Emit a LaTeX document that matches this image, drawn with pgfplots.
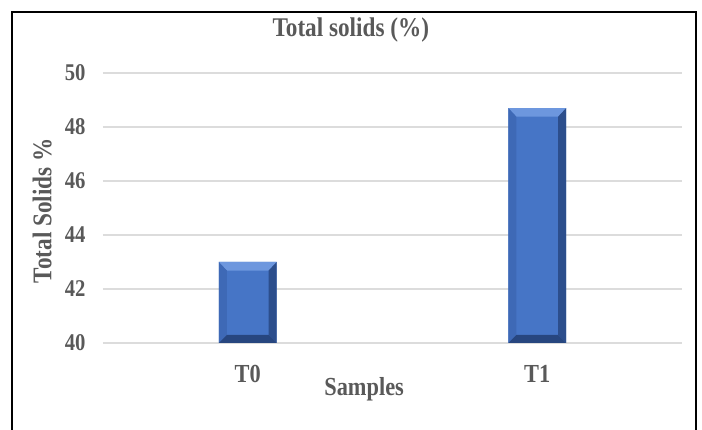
\documentclass[border=0pt]{standalone}
\usepackage{fontspec}
\setmainfont{Liberation Serif}[FakeStretch=0.86]
\usepackage{pgfplots}
\pgfplotsset{compat=1.18}
\definecolor{txt}{HTML}{595959}
\definecolor{gridc}{HTML}{DCDCDC}
\definecolor{face}{HTML}{4675C6}
\definecolor{bevtop}{HTML}{6D97DE}
\definecolor{bevleft}{HTML}{3E69B6}
\definecolor{bevright}{HTML}{2C4E8C}
\definecolor{bevbot}{HTML}{27467F}
\begin{document}
\begin{tikzpicture}
\useasboundingbox (-103pt,-87pt) rectangle (599pt,343pt);
\draw[line width=2.5pt] (-91pt,-90pt) -- (-91pt,331pt) -- (593pt,331pt) -- (593pt,-90pt);
\begin{axis}[
  scale only axis,
  width=579pt, height=270pt,
  xmin=-0.5, xmax=1.5,
  ymin=40, ymax=50,
  ytick={40,42,...,50},
  xtick={0,1},
  xticklabels={T0,T1},
  ymajorgrids=true,
  xmajorgrids=false,
  grid style={color=gridc, line width=1.2pt},
  axis line style={draw=none},
  major tick length=0pt,
  /pgf/number format/assume math mode=true,
  tick label style={text=txt, font=\bfseries\fontsize{24}{28}\selectfont},
  xticklabel style={yshift=-19pt, font=\bfseries\fontsize{26}{30}\selectfont},
  yticklabel style={xshift=-14pt},
  title={Total solids (\%)},
  title style={at={(0.428,1.136)}, anchor=center, text=txt, font=\bfseries\fontsize{27}{30}\selectfont},
  xlabel={Samples},
  xlabel style={at={(0.451,-0.17)}, anchor=center, text=txt, font=\bfseries\fontsize{26}{30}\selectfont},
  ylabel={Total Solids \%},
  ylabel style={at={(-0.105,0.49)}, anchor=center, text=txt, font=\bfseries\fontsize{27}{30}\selectfont},
  clip=false,
]
% bars
\addplot[ybar, bar width=0.2, fill=face, draw=none] coordinates {(0,43) (1,48.7)};
% bevel edges of T0 (value 43)
\addplot[fill=bevtop, draw=none] coordinates {(-0.1,43) (0.1,43) (0.072,42.68) (-0.072,42.68)} -- cycle;
\addplot[fill=bevleft, draw=none] coordinates {(-0.1,40) (-0.1,43) (-0.072,42.68) (-0.072,40.3)} -- cycle;
\addplot[fill=bevright, draw=none] coordinates {(0.1,43) (0.1,40) (0.072,40.3) (0.072,42.68)} -- cycle;
\addplot[fill=bevbot, draw=none] coordinates {(0.1,40) (-0.1,40) (-0.072,40.3) (0.072,40.3)} -- cycle;
% bevel edges of T1 (value 48.7)
\addplot[fill=bevtop, draw=none] coordinates {(0.9,48.7) (1.1,48.7) (1.072,48.38) (0.928,48.38)} -- cycle;
\addplot[fill=bevleft, draw=none] coordinates {(0.9,40) (0.9,48.7) (0.928,48.38) (0.928,40.3)} -- cycle;
\addplot[fill=bevright, draw=none] coordinates {(1.1,48.7) (1.1,40) (1.072,40.3) (1.072,48.38)} -- cycle;
\addplot[fill=bevbot, draw=none] coordinates {(1.1,40) (0.9,40) (0.928,40.3) (1.072,40.3)} -- cycle;
\end{axis}
\end{tikzpicture}
\end{document}
